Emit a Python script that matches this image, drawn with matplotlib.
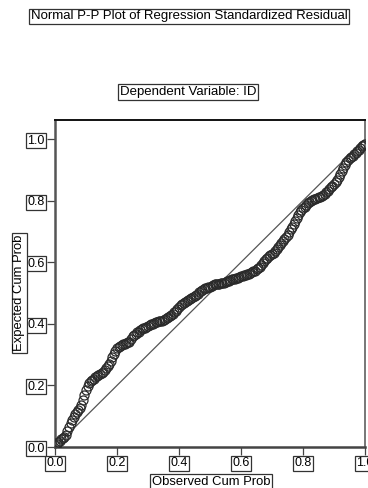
import matplotlib
matplotlib.use("Agg")
import matplotlib.pyplot as plt

plt.rcParams['font.family'] = ['Liberation Sans', 'DejaVu Sans']

# observed cumulative probability (x) and expected cumulative probability (y)
observed = [0.000, 0.005, 0.010, 0.015, 0.020, 0.025, 0.030, 0.035, 0.040, 0.045,
            0.050, 0.055, 0.060, 0.065, 0.070, 0.075, 0.080, 0.085, 0.090, 0.095,
            0.100, 0.105, 0.110, 0.115, 0.120, 0.125, 0.130, 0.135, 0.140, 0.145,
            0.150, 0.155, 0.160, 0.165, 0.170, 0.175, 0.180, 0.185, 0.190, 0.195,
            0.200, 0.205, 0.210, 0.215, 0.220, 0.225, 0.230, 0.235, 0.240, 0.245,
            0.250, 0.255, 0.260, 0.265, 0.270, 0.275, 0.280, 0.285, 0.290, 0.295,
            0.300, 0.305, 0.310, 0.315, 0.320, 0.325, 0.330, 0.335, 0.340, 0.345,
            0.350, 0.355, 0.360, 0.365, 0.370, 0.375, 0.380, 0.385, 0.390, 0.395,
            0.400, 0.405, 0.410, 0.415, 0.420, 0.425, 0.430, 0.435, 0.440, 0.445,
            0.450, 0.455, 0.460, 0.465, 0.470, 0.475, 0.480, 0.485, 0.490, 0.495,
            0.500, 0.505, 0.510, 0.515, 0.520, 0.525, 0.530, 0.535, 0.540, 0.545,
            0.550, 0.555, 0.560, 0.565, 0.570, 0.575, 0.580, 0.585, 0.590, 0.595,
            0.600, 0.605, 0.610, 0.615, 0.620, 0.625, 0.630, 0.635, 0.640, 0.645,
            0.650, 0.655, 0.660, 0.665, 0.670, 0.675, 0.680, 0.685, 0.690, 0.695,
            0.700, 0.705, 0.710, 0.715, 0.720, 0.725, 0.730, 0.735, 0.740, 0.745,
            0.750, 0.755, 0.760, 0.765, 0.770, 0.775, 0.780, 0.785, 0.790, 0.795,
            0.800, 0.805, 0.810, 0.815, 0.820, 0.825, 0.830, 0.835, 0.840, 0.845,
            0.850, 0.855, 0.860, 0.865, 0.870, 0.875, 0.880, 0.885, 0.890, 0.895,
            0.900, 0.905, 0.910, 0.915, 0.920, 0.925, 0.930, 0.935, 0.940, 0.945,
            0.950, 0.955, 0.960, 0.965, 0.970, 0.975, 0.980, 0.985, 0.990, 0.995,
            1.000]
expected = [0.005, 0.010, 0.015, 0.020, 0.025, 0.028, 0.032, 0.040, 0.052, 0.065,
            0.078, 0.088, 0.097, 0.106, 0.115, 0.121, 0.128, 0.138, 0.152, 0.170,
            0.185, 0.198, 0.207, 0.213, 0.218, 0.222, 0.226, 0.230, 0.233, 0.236,
            0.240, 0.245, 0.250, 0.256, 0.262, 0.270, 0.280, 0.291, 0.302, 0.312,
            0.320, 0.325, 0.328, 0.331, 0.334, 0.336, 0.338, 0.340, 0.342, 0.350,
            0.360, 0.364, 0.368, 0.372, 0.375, 0.379, 0.382, 0.385, 0.388, 0.391,
            0.394, 0.397, 0.399, 0.401, 0.403, 0.405, 0.406, 0.408, 0.409, 0.410,
            0.412, 0.415, 0.418, 0.421, 0.425, 0.428, 0.432, 0.437, 0.442, 0.449,
            0.455, 0.460, 0.464, 0.467, 0.470, 0.474, 0.477, 0.481, 0.484, 0.488,
            0.491, 0.495, 0.498, 0.502, 0.506, 0.509, 0.512, 0.515, 0.517, 0.519,
            0.521, 0.524, 0.526, 0.528, 0.529, 0.530, 0.531, 0.532, 0.533, 0.534,
            0.536, 0.538, 0.540, 0.542, 0.544, 0.546, 0.547, 0.549, 0.550, 0.552,
            0.554, 0.556, 0.557, 0.559, 0.561, 0.563, 0.565, 0.567, 0.570, 0.573,
            0.577, 0.581, 0.585, 0.590, 0.596, 0.603, 0.609, 0.614, 0.619, 0.623,
            0.627, 0.631, 0.636, 0.642, 0.648, 0.655, 0.662, 0.668, 0.675, 0.682,
            0.690, 0.699, 0.708, 0.716, 0.724, 0.734, 0.745, 0.755, 0.764, 0.770,
            0.775, 0.781, 0.786, 0.791, 0.795, 0.799, 0.802, 0.805, 0.807, 0.809,
            0.811, 0.813, 0.816, 0.819, 0.823, 0.828, 0.833, 0.838, 0.843, 0.848,
            0.853, 0.860, 0.868, 0.877, 0.886, 0.895, 0.905, 0.915, 0.924, 0.932,
            0.938, 0.942, 0.946, 0.951, 0.956, 0.961, 0.966, 0.971, 0.976, 0.981,
            0.985]
ref_line = [0.0, 1.0]
ticks = [0.0, 0.2, 0.4, 0.6, 0.8, 1.0]
tick_labels = ["0.0", "0.2", "0.4", "0.6", "0.8", "1.0"]

box = dict(boxstyle="square,pad=0.12", fc="white", ec="#333333", lw=0.9)

fig = plt.figure(figsize=(3.68, 4.88), dpi=100)
ax = fig.add_axes([55 / 368, 1 - 447 / 488, 310 / 368, 327 / 488])

ax.plot(ref_line, ref_line, color="#555555", lw=0.9, zorder=2)
ax.plot(observed, expected, ls="none", marker="o", ms=6.5, mfc="none",
        mec="#2a2a2a", mew=0.9, zorder=3)

ax.set_xlim(0, 1)
ax.set_ylim(0, 1.062)
ax.set_xticks(ticks)
ax.set_xticklabels(tick_labels)
ax.set_yticks(ticks)
ax.set_yticklabels(tick_labels)
ax.tick_params(direction="out", length=6, width=0.9, color="#444444",
               labelsize=9, pad=1.5)
for lab in ax.get_xticklabels() + ax.get_yticklabels():
    lab.set_bbox(box)

ax.spines["top"].set_color("#111111")
ax.spines["top"].set_linewidth(1.4)
ax.spines["right"].set_color("#777777")
ax.spines["right"].set_linewidth(1.4)
ax.spines["left"].set_color("#555555")
ax.spines["left"].set_linewidth(1.8)
ax.spines["bottom"].set_color("#444444")
ax.spines["bottom"].set_linewidth(1.8)

# titles and axis labels, boxed like SPSS output
fig.text(189 / 368, 1 - 16.5 / 488, "Normal P-P Plot of Regression Standardized Residual",
         ha="center", va="center", fontsize=9.5, bbox=box)
fig.text(188 / 368, 1 - 92 / 488, "Dependent Variable: ID",
         ha="center", va="center", fontsize=9.5, bbox=box)
fig.text(211 / 368, 1 - 482 / 488, "Observed Cum Prob",
         ha="center", va="center", fontsize=9.4, bbox=box)
fig.text(19.5 / 368, 1 - 293 / 488, "Expected Cum Prob", rotation=90,
         ha="center", va="center", fontsize=9.4, bbox=box)

fig.savefig("out.png", dpi=100)
